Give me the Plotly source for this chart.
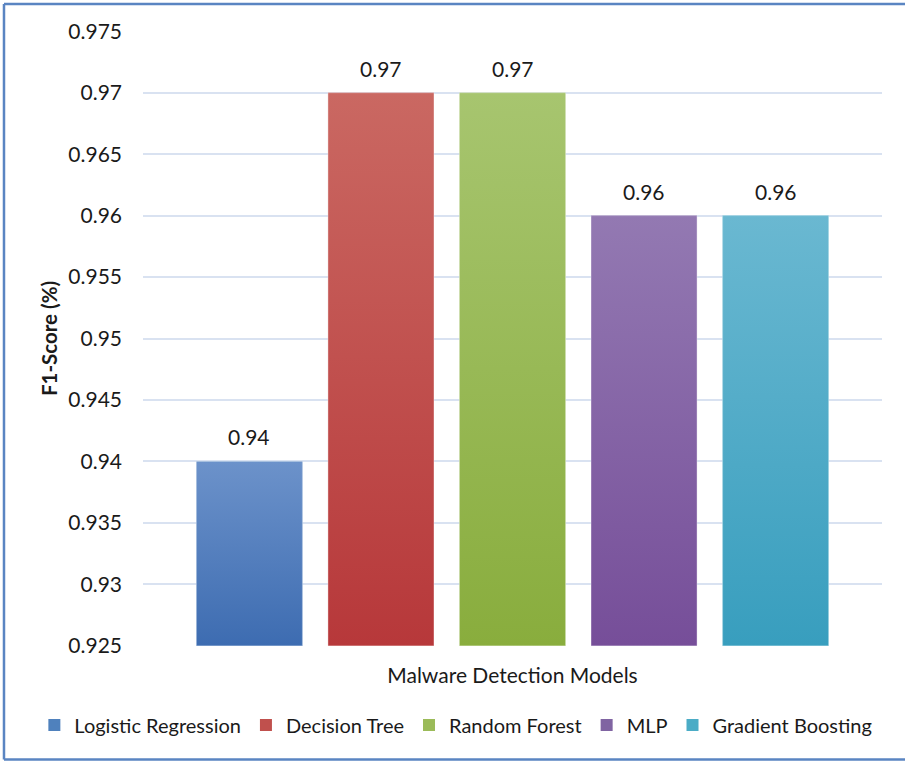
import plotly.graph_objects as go

# ---- data ----
models = ["Logistic Regression", "Decision Tree", "Random Forest", "MLP", "Gradient Boosting"]
f1_scores = [0.94, 0.97, 0.97, 0.96, 0.96]
y_tick_values = [0.925, 0.93, 0.935, 0.94, 0.945, 0.95, 0.955, 0.96, 0.965, 0.97, 0.975]
y_tick_labels = ["0.925", "0.93", "0.935", "0.94", "0.945", "0.95", "0.955", "0.96", "0.965", "0.97", "0.975"]
x_title = "Malware Detection Models"
y_title = "F1-Score (%)"

# ---- styling ----
legend_colors = ["#4F81BD", "#C0504D", "#9BBB59", "#8064A2", "#4BACC6"]
top_colors = ["#6C92CA", "#CA6862", "#A7C56F", "#9379B2", "#6AB8D1"]
bottom_colors = ["#3D6CB1", "#B7383A", "#89AD3D", "#764E99", "#389EBE"]
FONT = "Lato, 'Open Sans', sans-serif"
FONT_SIZE = 21
TEXT_COLOR = "#1a1a1a"
GRID_COLOR = "#D9E2F1"
FRAME_COLOR = "#5A85C2"
Y_MIN, Y_MAX = 0.925, 0.975
SLOT = 0.178        # distance between neighbouring bar centres (x units)
BAR_WIDTH = 0.1434  # bar width (x units)

fig = go.Figure()

n = len(models)
for i, (name, val) in enumerate(zip(models, f1_scores)):
    centre = (i - (n - 1) / 2) * SLOT
    x0, x1 = centre - BAR_WIDTH / 2, centre + BAR_WIDTH / 2
    # base bar (also provides the legend swatch)
    fig.add_trace(go.Bar(
        x=[centre], y=[val], width=[BAR_WIDTH],
        name=name, marker=dict(color=legend_colors[i], line=dict(width=0)),
        hoverinfo="name+y",
    ))
    # gradient face of the bar, lighter at the top
    fig.add_trace(go.Scatter(
        x=[x0, x1, x1, x0, x0], y=[Y_MIN, Y_MIN, val, val, Y_MIN],
        mode="lines", fill="toself",
        line=dict(width=1, color="rgba(255,255,255,0.35)"),
        fillgradient=dict(type="vertical",
                          colorscale=[[0, bottom_colors[i]], [1, top_colors[i]]]),
        showlegend=False, hoverinfo="skip",
    ))
    fig.add_annotation(
        x=centre, y=val, text=f"{val:.2f}", showarrow=False,
        yanchor="bottom", yshift=10,
        font=dict(family=FONT, size=FONT_SIZE, color=TEXT_COLOR),
    )

fig.update_layout(
    width=905, height=761,
    margin=dict(l=143, r=23, t=31, b=115, autoexpand=False),
    paper_bgcolor="white", plot_bgcolor="white",
    barmode="overlay",
    font=dict(family=FONT, size=FONT_SIZE, color=TEXT_COLOR),
    showlegend=True,
    legend=dict(
        orientation="h", xref="paper", x=-0.147, xanchor="left",
        yref="paper", y=-0.1285, yanchor="middle",
        font=dict(family=FONT, size=20, color=TEXT_COLOR),
        traceorder="normal", itemclick=False, itemwidth=30,
    ),
)

fig.update_xaxes(
    range=[-0.5, 0.5], showticklabels=False, showgrid=False, zeroline=False,
    showline=False, ticks="",
    title=dict(text=x_title, standoff=22,
               font=dict(family=FONT, size=FONT_SIZE, color=TEXT_COLOR)),
)
fig.update_yaxes(
    range=[Y_MIN - 0.00002, Y_MAX + 0.00002],
    tickmode="array", tickvals=y_tick_values, ticktext=y_tick_labels,
    showgrid=True, gridcolor=GRID_COLOR, gridwidth=1.6,
    zeroline=False, showline=False, ticks="", ticklabelstandoff=20,
    tickfont=dict(family=FONT, size=FONT_SIZE, color=TEXT_COLOR),
    title=dict(text=f"<b>{y_title}</b>", standoff=5,
               font=dict(family=FONT, size=20.5, color=TEXT_COLOR)),
)

# chart-area frame (left, top and bottom edges)
frame = dict(type="line", xref="paper", yref="paper",
             line=dict(color=FRAME_COLOR, width=2.5), layer="above")
fig.add_shape(**frame, x0=-0.1881, x1=-0.1881, y0=1.0439, y1=-0.1846)
fig.add_shape(**frame, x0=-0.1881, x1=1.05, y0=1.0439, y1=1.0439)
fig.add_shape(**frame, x0=-0.1881, x1=1.05, y0=-0.1846, y1=-0.1846)

fig.write_html("out.html")
